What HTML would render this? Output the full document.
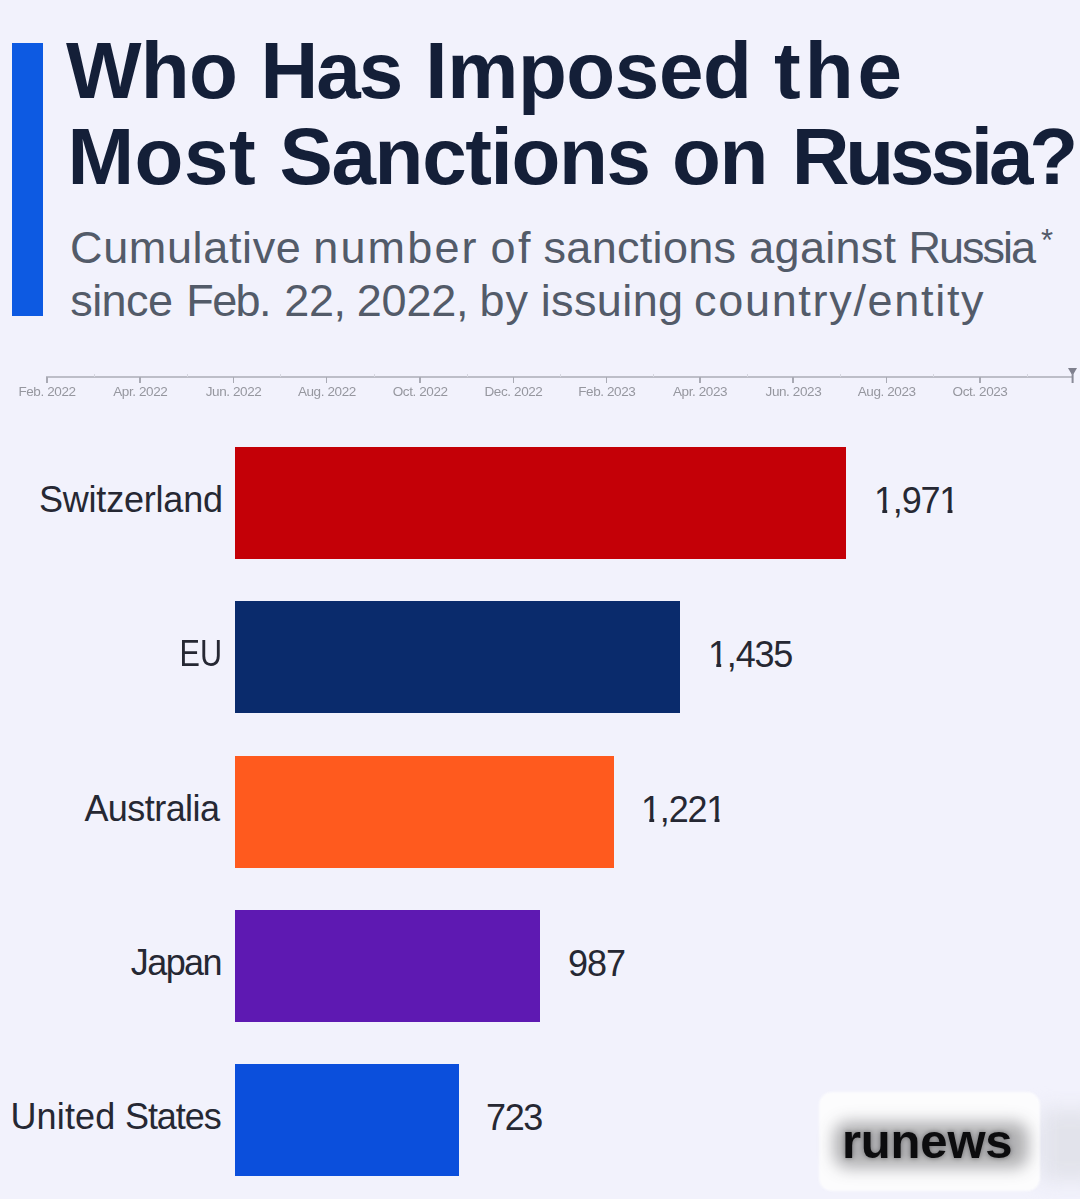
<!DOCTYPE html>
<html>
<head>
<meta charset="utf-8">
<style>
html,body{margin:0;padding:0;}
body{width:1080px;height:1199px;overflow:hidden;background:#f2f2fc;position:relative;font-family:"Liberation Sans",sans-serif;}
.a{position:absolute;white-space:nowrap;}
#accent{left:12px;top:42.5px;width:31px;height:273px;background:#0d5ae2;}
.title{font-weight:bold;font-size:80px;line-height:80px;color:#141f38;}
.sub{font-size:45px;line-height:45px;color:#535b69;}
.lbl{font-size:36px;line-height:36px;color:#262833;transform-origin:100% 50%;}
.val{font-size:36px;line-height:36px;color:#262833;}
.one{display:inline-block;clip-path:polygon(0 0,100% 0,100% 27px,13.2px 27px,13.2px 40px,8.3px 40px,8.3px 27px,0 27px);}
.bar{position:absolute;left:235px;height:112px;}
.tl{font-size:13.5px;line-height:14px;color:#96979f;letter-spacing:-0.4px;transform:translateX(-50%);filter:blur(0.3px);}
.mt{position:absolute;top:377px;width:1.6px;height:5.5px;background:#a9aab4;}
.nt{position:absolute;top:374px;width:1px;height:3px;background:#d6d7e0;}
</style>
</head>
<body>
<div id="accent" class="a"></div>
<div class="a title" style="left:66.00px;top:31px;letter-spacing:-0.650px;">Who</div>
<div class="a title" style="left:260.60px;top:31px;letter-spacing:-2.100px;">Has</div>
<div class="a title" style="left:425.30px;top:31px;letter-spacing:-0.383px;">Imposed</div>
<div class="a title" style="left:774.00px;top:31px;letter-spacing:4.000px;">the</div>
<div class="a title" style="left:67.40px;top:117px;letter-spacing:0.533px;">Most</div>
<div class="a title" style="left:279.40px;top:117px;letter-spacing:-1.325px;">Sanctions</div>
<div class="a title" style="left:672.00px;top:117px;letter-spacing:-1.400px;">on</div>
<div class="a title" style="left:791.70px;top:117px;letter-spacing:-4.117px;">Russia?</div>
<div class="a sub" style="left:70.00px;top:224.5px;letter-spacing:0.639px;">Cumulative</div>
<div class="a sub" style="left:313.25px;top:224.5px;letter-spacing:2.150px;">number</div>
<div class="a sub" style="left:490.50px;top:224.5px;letter-spacing:2.500px;">of</div>
<div class="a sub" style="left:543.50px;top:224.5px;letter-spacing:0.312px;">sanctions</div>
<div class="a sub" style="left:749.25px;top:224.5px;letter-spacing:0.292px;">against</div>
<div class="a sub" style="left:908.50px;top:224.5px;letter-spacing:-2.000px;">Russia</div>
<div class="a sub" style="left:70.25px;top:278px;letter-spacing:-0.562px;">since</div>
<div class="a sub" style="left:186.30px;top:278px;letter-spacing:-1.600px;">Feb.</div>
<div class="a sub" style="left:284.25px;top:278px;letter-spacing:-0.375px;">22,</div>
<div class="a sub" style="left:356.75px;top:278px;letter-spacing:-0.188px;">2022,</div>
<div class="a sub" style="left:479.50px;top:278px;letter-spacing:1.000px;">by</div>
<div class="a sub" style="left:540.75px;top:278px;letter-spacing:0.375px;">issuing</div>
<div class="a sub" style="left:694.00px;top:278px;letter-spacing:1.692px;">country/entity</div>
<div class="a sub" style="left:1041px;font-size:31px;top:217.5px;">*</div>
<div class="a" style="left:46px;top:376px;width:1026px;height:2px;background:#bdbec8;"></div>

<div class="mt" style="left:46.0px;"></div>
<div class="a tl" style="left:47.0px;top:385px;">Feb. 2022</div>
<div class="mt" style="left:139.3px;"></div>
<div class="a tl" style="left:140.3px;top:385px;">Apr. 2022</div>
<div class="mt" style="left:232.6px;"></div>
<div class="a tl" style="left:233.6px;top:385px;">Jun. 2022</div>
<div class="mt" style="left:325.9px;"></div>
<div class="a tl" style="left:326.9px;top:385px;">Aug. 2022</div>
<div class="mt" style="left:419.2px;"></div>
<div class="a tl" style="left:420.2px;top:385px;">Oct. 2022</div>
<div class="mt" style="left:512.5px;"></div>
<div class="a tl" style="left:513.5px;top:385px;">Dec. 2022</div>
<div class="mt" style="left:605.8px;"></div>
<div class="a tl" style="left:606.8px;top:385px;">Feb. 2023</div>
<div class="mt" style="left:699.1px;"></div>
<div class="a tl" style="left:700.1px;top:385px;">Apr. 2023</div>
<div class="mt" style="left:792.4px;"></div>
<div class="a tl" style="left:793.4px;top:385px;">Jun. 2023</div>
<div class="mt" style="left:885.7px;"></div>
<div class="a tl" style="left:886.7px;top:385px;">Aug. 2023</div>
<div class="mt" style="left:979.0px;"></div>
<div class="a tl" style="left:980.0px;top:385px;">Oct. 2023</div>
<div class="nt" style="left:93.7px;"></div>
<div class="nt" style="left:187.0px;"></div>
<div class="nt" style="left:280.2px;"></div>
<div class="nt" style="left:373.5px;"></div>
<div class="nt" style="left:466.8px;"></div>
<div class="nt" style="left:560.1px;"></div>
<div class="nt" style="left:653.4px;"></div>
<div class="nt" style="left:746.8px;"></div>
<div class="nt" style="left:840.0px;"></div>
<div class="nt" style="left:933.3px;"></div>
<div class="nt" style="left:1026.7px;"></div>
<svg class="a" style="left:1064px;top:364px;" width="16" height="24" viewBox="0 0 16 24">
  <path d="M4 4 L13 4 L9.5 10 L7.5 10 Z" fill="#7f808e"/>
  <rect x="7.6" y="9" width="2" height="10" fill="#8a8b98"/>
</svg>
<div class="bar" style="top:447px;width:611px;background:#c40007;"></div>
<div class="a lbl" style="right:857.20px;top:482px;letter-spacing:-0.2px;">Switzerland</div>
<div class="a val" style="left:874px;top:483px;letter-spacing:-1.2px;"><span class="one">1</span>,97<span class="one">1</span></div>
<div class="bar" style="top:601px;width:445px;background:#0a2b6c;"></div>
<div class="a lbl" style="right:858.00px;top:636px;letter-spacing:0px;transform:scaleX(0.85);">EU</div>
<div class="a val" style="left:708px;top:637px;letter-spacing:-1.2px;"><span class="one">1</span>,435</div>
<div class="bar" style="top:756px;width:379px;background:#ff5a1e;"></div>
<div class="a lbl" style="right:860.56px;top:791px;letter-spacing:-0.56px;">Australia</div>
<div class="a val" style="left:641px;top:792px;letter-spacing:-1.2px;"><span class="one">1</span>,22<span class="one">1</span></div>
<div class="bar" style="top:910px;width:305px;background:#5e19b2;"></div>
<div class="a lbl" style="right:859.10px;top:945px;letter-spacing:-1.6px;">Japan</div>
<div class="a val" style="left:568px;top:945.5px;letter-spacing:-1.0px;">987</div>
<div class="bar" style="top:1064px;width:224px;background:#0b4fdc;"></div>
<div class="a lbl" style="right:859.40px;top:1099px;letter-spacing:-0.4px;"><span style="letter-spacing:0.15px">United</span> <span style="letter-spacing:-1.08px">States</span></div>
<div class="a val" style="left:486px;top:1099.5px;letter-spacing:-1.35px;">723</div>

<div class="a" style="left:1040px;top:1110px;width:60px;height:70px;background:#e2e3eb;filter:blur(10px);"></div>
<div class="a" style="left:819px;top:1092px;width:221px;height:99px;border-radius:13px;background:#fcfcfd;filter:blur(1.2px);"></div>
<div class="a" style="left:834px;top:1122px;width:194px;height:46px;border-radius:14px;background:rgba(40,40,44,0.36);filter:blur(8px);"></div>
<div class="a" style="left:842px;top:1113px;font-size:49px;line-height:56px;font-weight:bold;color:#0c0c0e;letter-spacing:-0.2px;text-shadow:0 0 5px rgba(0,0,0,0.4);">runews</div>

</body>
</html>
